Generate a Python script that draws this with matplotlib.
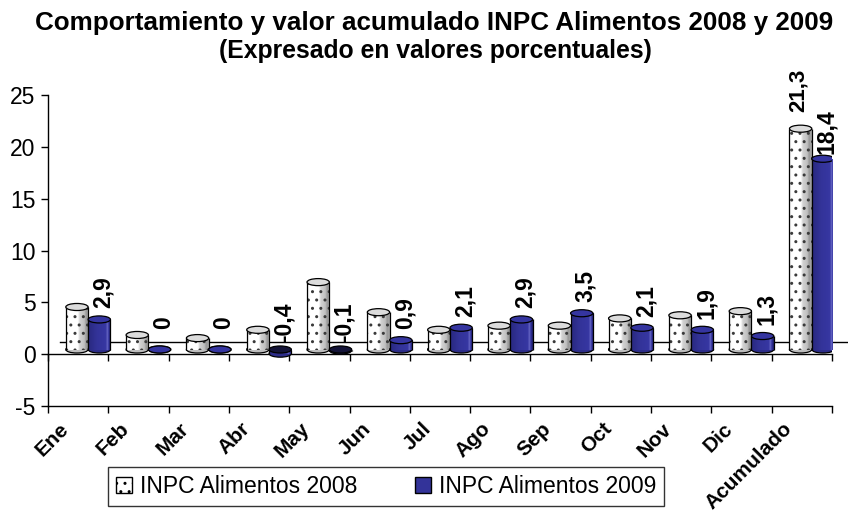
import numpy as np
import matplotlib
matplotlib.use("Agg")
import matplotlib.pyplot as plt
from matplotlib.patches import Ellipse, Rectangle, Patch
from matplotlib.colors import LinearSegmentedColormap
from matplotlib.transforms import blended_transform_factory, ScaledTranslation

# ---------------- data ----------------
categories = ["Ene", "Feb", "Mar", "Abr", "May", "Jun", "Jul", "Ago", "Sep",
              "Oct", "Nov", "Dic", "Acumulado"]
values_2008 = [4.1, 1.4, 1.1, 1.9, 6.5, 3.6, 1.9, 2.3, 2.3, 3.0, 3.3, 3.7, 21.3]
values_2009 = [2.9, 0, 0, -0.4, -0.1, 0.9, 2.1, 2.9, 3.5, 2.1, 1.9, 1.3, 18.4]
series_labels = ["INPC Alimentos 2008", "INPC Alimentos 2009"]
title_line1 = "Comportamiento y valor acumulado INPC Alimentos 2008 y 2009"
title_line2 = "(Expresado en valores porcentuales)"
y_ticks = [-5, 0, 5, 10, 15, 20, 25]

# ---------------- style ----------------
plt.rcParams['font.family'] = ['Liberation Sans', 'DejaVu Sans']
plt.rcParams['hatch.linewidth'] = 1.0
NAVY = '#333399'

fig = plt.figure(figsize=(8.48, 5.12), dpi=100)
ax = fig.add_axes([48 / 848, 106 / 512, 784 / 848, 311 / 512])

x = np.arange(len(categories))
W = 0.37
BASE = 0.45     # 3D floor lift
ELL_H = 0.68    # ellipse cap height (data units)

bars08 = ax.bar(x - 0.02, values_2008, width=W, bottom=BASE, color='none', edgecolor='none')
bars09 = ax.bar(x + 0.35, values_2009, width=W, bottom=BASE, color='none', edgecolor='none')

cmap08 = LinearSegmentedColormap.from_list('c08', [
    (0, '#ececec'), (0.12, '#ffffff'), (0.52, '#ffffff'), (0.6, '#d3d3d3'),
    (0.8, '#bfbfbf'), (0.88, '#979797'), (1, '#acacac')])
cmap09 = LinearSegmentedColormap.from_list('c09', [
    (0, '#29297f'), (0.4, '#333399'), (0.78, '#3737a2'), (0.85, '#6a6ac6'),
    (0.9, '#3434a0'), (1, '#1e1e66')])
grad = np.linspace(0, 1, 256)[None, :]


def draw_cyl(rect, cmap, top_color, bottom_color, dotted, z):
    x0 = rect.get_x()
    w = rect.get_width()
    x1 = x0 + w
    yb = rect.get_y()
    h = rect.get_height()
    y_lo, y_hi = min(yb, yb + h), max(yb, yb + h)
    cx = x0 + w / 2
    ax.add_patch(Ellipse((cx, y_lo), w, ELL_H, facecolor=bottom_color,
                         edgecolor='black', lw=0.9, zorder=z))
    if y_hi - y_lo > 1e-6:
        ax.imshow(grad, cmap=cmap, extent=(x0, x1, y_lo, y_hi), aspect='auto',
                  interpolation='bilinear', zorder=z + 0.01)
        if dotted:
            ax.add_patch(Rectangle((x0, y_lo), w, y_hi - y_lo, facecolor='none',
                                   edgecolor='#3a3a3a', hatch='..', lw=0,
                                   zorder=z + 0.02))
        for xx in (x0, x1):
            ax.plot([xx, xx], [y_lo, y_hi], color='black', lw=0.9,
                    zorder=z + 0.03, solid_capstyle='butt')
    ax.add_patch(Ellipse((cx, y_hi), w, ELL_H, facecolor=top_color,
                         edgecolor='black', lw=0.9, zorder=z + 0.04))
    return cx, y_hi


z = 3.0
label_pos09 = []
label_pos08 = []
for r08, r09, v08, v09 in zip(bars08, bars09, values_2008, values_2009):
    label_pos08.append(draw_cyl(r08, cmap08, '#dcdcdc', '#bdbdbd', True, z))
    z += 0.1
    top09 = '#141438' if v09 < 0 else '#3535a0'
    label_pos09.append(draw_cyl(r09, cmap09, top09, '#2c2c88', False, z))
    z += 0.1


def fmt(v):
    return ('%g' % v).replace('.', ',')


for (cx, cy), v in zip(label_pos09, values_2009):
    ax.annotate(fmt(v), xy=(cx, cy), xytext=(4, 27), textcoords='offset pixels',
                rotation=90, ha='center', va='center', fontsize=16.5,
                fontweight='bold', zorder=20)
cx, cy = label_pos08[-1]
ax.annotate(fmt(values_2008[-1]), xy=(cx, cy), xytext=(-2, 38),
            textcoords='offset pixels', rotation=90, ha='center', va='center',
            fontsize=16, fontweight='bold', zorder=20)

# back edge of 3D floor
ax.plot([-0.3, 12.5 + 16 / 60.3], [1.15, 1.15], color='black', lw=1,
        clip_on=False, zorder=1.5)

# axes
ax.set_xlim(-0.5, 12.5)
ax.set_ylim(-5, 25)
ax.set_aspect('auto')
ax.set_yticks(y_ticks)
ax.set_yticklabels([str(t) for t in y_ticks])
ax.tick_params(axis='y', length=5, direction='out', labelsize=16.5, pad=4, width=1)
ax.set_xticks(np.arange(-0.5, len(categories), 1))
ax.tick_params(axis='x', length=5, direction='out', labelbottom=False, width=1)
for s in ('top', 'right'):
    ax.spines[s].set_visible(False)
for s in ('left', 'bottom'):
    ax.spines[s].set_linewidth(1)

sec = ax.secondary_xaxis(5 / 30)
sec.set_xticks(np.arange(-0.5, len(categories), 1))
sec.tick_params(length=5, direction='out', labelbottom=False, width=1)
sec.spines['bottom'].set_linewidth(1)

# category labels
trans = blended_transform_factory(ax.transData, ax.transAxes) + \
    ScaledTranslation(-19 / 100, -13 / 100, fig.dpi_scale_trans)
for i, cat in enumerate(categories):
    ax.text(i, 0, cat, transform=trans, rotation=45, rotation_mode='anchor',
            ha='right', va='top', fontsize=15, fontweight='bold', clip_on=False)

# title
fig.text(434 / 848, 1 - 30 / 512, title_line1, ha='center', va='baseline',
         fontsize=18.7, fontweight='bold')
fig.text(435 / 848, 1 - 58 / 512, title_line2, ha='center', va='baseline',
         fontsize=17.8, fontweight='bold')

# legend
handles = [Patch(facecolor='white', edgecolor='black', hatch='..'),
           Patch(facecolor=NAVY, edgecolor='black')]
leg = fig.legend(handles, series_labels, loc='center',
                 bbox_to_anchor=(386 / 848, 1 - 486.5 / 512), ncol=2,
                 frameon=True, fancybox=False, edgecolor='black', fontsize=16.5,
                 handlelength=0.7, handleheight=0.7, handletextpad=0.35,
                 columnspacing=2.5, borderpad=0.35)
leg.get_frame().set_linewidth(1.0)

fig.savefig('out.png', dpi=100)
